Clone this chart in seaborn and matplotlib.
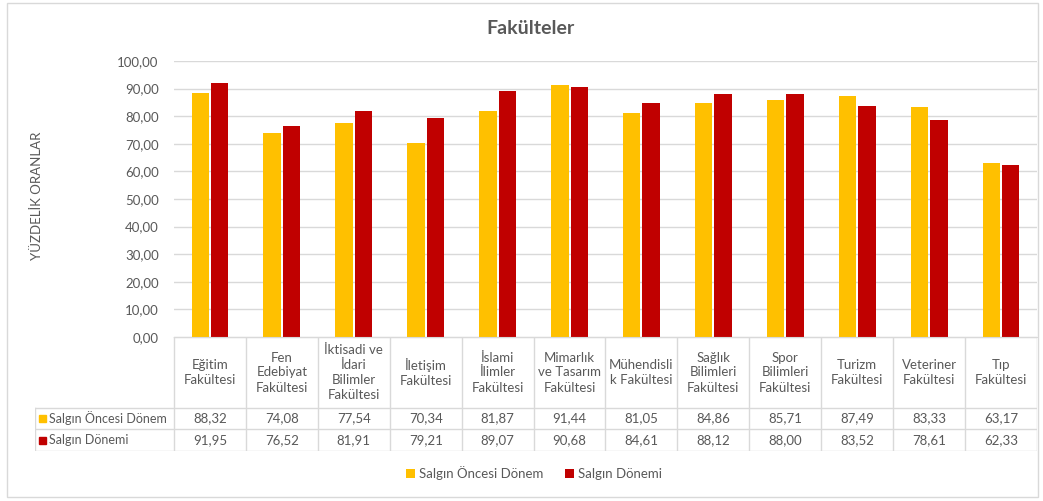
import matplotlib
matplotlib.use('Agg')
import matplotlib.pyplot as plt
import pandas as pd
import seaborn as sns
from matplotlib.patches import Rectangle

faculties = ['Eğitim\nFakültesi', 'Fen\nEdebiyat\nFakültesi', 'İktisadi ve\nİdari\nBilimler\nFakültesi',
             'İletişim\nFakültesi', 'İslami\nİlimler\nFakültesi', 'Mimarlık\nve Tasarım\nFakültesi',
             'Mühendisli\nk Fakültesi', 'Sağlık\nBilimleri\nFakültesi', 'Spor\nBilimleri\nFakültesi',
             'Turizm\nFakültesi', 'Veteriner\nFakültesi', 'Tıp\nFakültesi']
series_names = ['Salgın Öncesi Dönem', 'Salgın Dönemi']
before = [88.32, 74.08, 77.54, 70.34, 81.87, 91.44, 81.05, 84.86, 85.71, 87.49, 83.33, 63.17]
during = [91.95, 76.52, 81.91, 79.21, 89.07, 90.68, 84.61, 88.12, 88.00, 83.52, 78.61, 62.33]
colors = ['#FFC000', '#C00000']

df = pd.DataFrame({
    'Fakulte': faculties * 2,
    'Seri': [series_names[0]] * len(faculties) + [series_names[1]] * len(faculties),
    'Oran': before + during,
})

TXT = '#595959'
GRID = '#D9D9D9'
FS = 9.5
plt.rcParams['font.family'] = ['Lato', 'DejaVu Sans']

W, H = 1043, 501
fig = plt.figure(figsize=(W / 100, H / 100), dpi=100)

# plot area in pixel terms
L, R, T, B = 174, 1037, 61, 337
ax = fig.add_axes([L / W, 1 - B / H, (R - L) / W, (B - T) / H])
sns.barplot(data=df, x='Fakulte', y='Oran', hue='Seri', palette=colors,
            width=0.54, gap=0.1, saturation=1, ax=ax, legend=True)
ax.set_ylim(0, 100)
ax.set_xlim(-0.5, len(faculties) - 0.5)
ax.set_yticks(range(0, 101, 10))
ax.set_yticklabels([f'{v},00' for v in range(0, 101, 10)], color=TXT, fontsize=FS)
ax.tick_params(axis='y', length=0, pad=11)
ax.set_xticks([])
ax.set_xlabel('')
ax.set_ylabel('')
ax.grid(axis='y', color=GRID, linewidth=1)
ax.set_axisbelow(True)
for s in ['top', 'right', 'left']:
    ax.spines[s].set_visible(False)
ax.spines['bottom'].set_color(GRID)

handles, labels = ax.get_legend_handles_labels()
ax.get_legend().remove()

# data table below the plot
TL, TB = 35, 451
cat_w = (R - L) / len(faculties)
tax = fig.add_axes([TL / W, 1 - TB / H, (R - TL) / W, (TB - B) / H])
tax.set_xlim(TL, R)
tax.set_ylim(TB, B)
tax.axis('off')
row1, row2 = 408, 429
lw = 1
tax.plot([L, R], [B, B], color=GRID, lw=lw)
tax.plot([TL, R], [row1, row1], color=GRID, lw=lw)
tax.plot([TL, R], [row2, row2], color=GRID, lw=lw)
tax.plot([TL, R], [TB, TB], color=GRID, lw=lw)
tax.plot([TL, TL], [row1, TB], color=GRID, lw=lw)
for i in range(len(faculties) + 1):
    xx = L + i * cat_w
    tax.plot([xx, xx], [B, TB], color=GRID, lw=lw)
for i, name in enumerate(faculties):
    cx = L + (i + 0.5) * cat_w
    tax.text(cx, (B + row1) / 2, name, ha='center', va='center', color=TXT,
             fontsize=FS, linespacing=1.3)
    tax.text(cx, (row1 + row2) / 2, f'{before[i]:.2f}'.replace('.', ','),
             ha='center', va='center', color=TXT, fontsize=FS)
    tax.text(cx, (row2 + TB) / 2, f'{during[i]:.2f}'.replace('.', ','),
             ha='center', va='center', color=TXT, fontsize=FS)
for (y0, y1), name, c in zip([(row1, row2), (row2, TB)], series_names, colors):
    yc = (y0 + y1) / 2
    tax.add_patch(Rectangle((39, yc - 3.5), 7, 7, color=c, clip_on=False))
    tax.text(49, yc, name, ha='left', va='center', color=TXT, fontsize=9)

fig.text(530 / W, 1 - 28 / H, 'Fakülteler', ha='center', va='center',
         fontsize=14, fontweight='bold', color=TXT)
fig.text(37 / W, 1 - 196 / H, 'YÜZDELİK ORANLAR', ha='center', va='center',
         rotation=90, fontsize=FS, color=TXT)

fig.legend(handles, labels, loc='center', bbox_to_anchor=(534 / W, 1 - 473 / H),
           ncol=2, frameon=False, fontsize=FS, handlelength=0.7, handleheight=0.7,
           handletextpad=0.3, columnspacing=1.6, labelcolor=TXT)

fig.add_artist(Rectangle((7 / W, 1 - 497 / H), 1031 / W, 494 / H, transform=fig.transFigure,
                         fill=False, edgecolor=GRID, lw=1))

fig.savefig('out.png', dpi=100)
